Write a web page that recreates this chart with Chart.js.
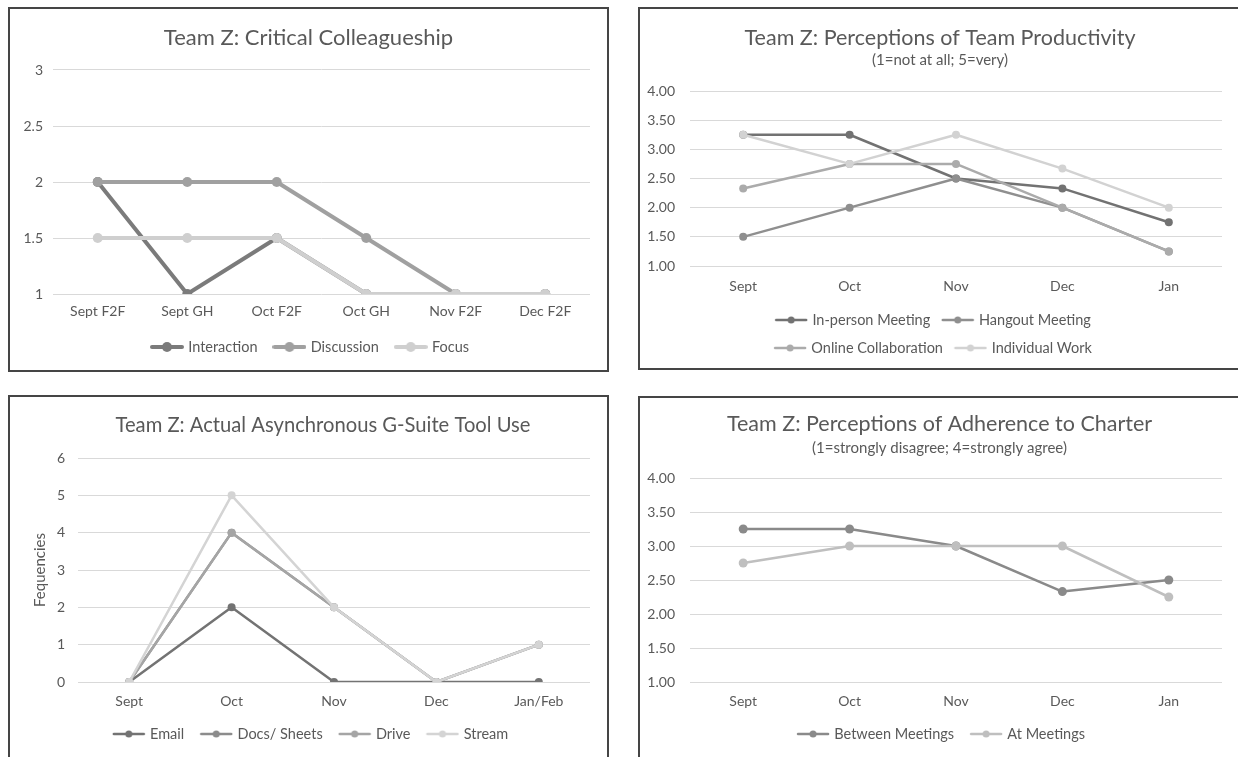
<!DOCTYPE html>
<html>
<head>
<meta charset="utf-8">
<script src="https://cdn.jsdelivr.net/npm/chart.js@4.4.1/dist/chart.umd.min.js"></script>
<style>
  html, body { margin: 0; padding: 0; background: #fff; overflow: hidden; width: 1238px; height: 757px; }
  canvas.panel { position: absolute; }
  .frame { position: absolute; border: 2px solid #454545; box-sizing: border-box; pointer-events: none; }
</style>
</head>
<body>
<canvas id="colleagueship" class="panel" width="599" height="363" style="left:9px;top:8px"></canvas>
<canvas id="productivity" class="panel" width="602" height="361" style="left:639px;top:8px"></canvas>
<canvas id="toolUse" class="panel" width="599" height="363" style="left:9px;top:396px"></canvas>
<canvas id="charter" class="panel" width="602" height="363" style="left:639px;top:397px"></canvas>
<div class="frame" style="left:8px;top:7px;width:601px;height:365px"></div>
<div class="frame" style="left:638px;top:7px;width:610px;height:363px"></div>
<div class="frame" style="left:8px;top:395px;width:601px;height:380px"></div>
<div class="frame" style="left:638px;top:396px;width:610px;height:380px"></div>
<script>
// ---- Critical Colleagueship ----
const ccCategories = ['Sept F2F', 'Sept GH', 'Oct F2F', 'Oct GH', 'Nov F2F', 'Dec F2F'];
const ccInteraction = [2, 1, 1.5, 1, 1, 1];
const ccDiscussion = [2, 2, 2, 1.5, 1, 1];
const ccFocus = [1.5, 1.5, 1.5, 1, 1, 1];

// ---- Perceptions of Team Productivity ----
const prodMonths = ['Sept', 'Oct', 'Nov', 'Dec', 'Jan'];
const prodInPerson = [3.25, 3.25, 2.5, 2.33, 1.75];
const prodHangout = [1.5, 2.0, 2.5, 2.0, 1.25];
const prodOnline = [2.33, 2.75, 2.75, 2.0, 1.25];
const prodIndividual = [3.25, 2.75, 3.25, 2.67, 2.0];

// ---- Actual Asynchronous G-Suite Tool Use ----
const toolMonths = ['Sept', 'Oct', 'Nov', 'Dec', 'Jan/Feb'];
const toolEmail = [0, 2, 0, 0, 0];
const toolDocs = [0, 4, 2, 0, 1];
const toolDrive = [0, 4, 2, 0, 1];
const toolStream = [0, 5, 2, 0, 1];

// ---- Perceptions of Adherence to Charter ----
const charterMonths = ['Sept', 'Oct', 'Nov', 'Dec', 'Jan'];
const charterBetween = [3.25, 3.25, 3.0, 2.33, 2.5];
const charterAt = [2.75, 3.0, 3.0, 3.0, 2.25];

const FONT = 'Lato, "Open Sans", sans-serif';
const TEXT = '#595959';
const GRID = '#d9d9d9';

// small line-with-marker picture used as the legend key
function legendSwatch(color, lineWidth, radius) {
  const c = document.createElement('canvas');
  c.width = 34; c.height = 14;
  const g = c.getContext('2d');
  g.strokeStyle = color; g.lineWidth = lineWidth; g.lineCap = 'round';
  g.beginPath(); g.moveTo(2, 7); g.lineTo(32, 7); g.stroke();
  g.fillStyle = color;
  g.beginPath(); g.arc(17, 7, radius, 0, Math.PI * 2); g.fill();
  return c;
}

function series(label, data, color, lw, r, order) {
  return {
    label, data, order,
    borderColor: color, backgroundColor: color,
    pointBackgroundColor: color, pointBorderColor: color,
    borderWidth: lw, pointRadius: r, pointHoverRadius: r, pointBorderWidth: 0,
    tension: 0, fill: false, borderJoinStyle: 'round', borderCapStyle: 'round'
  };
}

function buildChart(id, s, labels, datasets, range) {
  const canvas = document.getElementById(id);
  const W = canvas.width, H = canvas.height;
  const padR = W - s.plotR;
  const tLH = s.titleSize * 1.2;
  const titlePad = { top: s.titleY - tLH / 2, bottom: 0 };
  let subtitle = { display: false };
  if (s.sub) {
    const sLH = s.subSize * 1.2;
    const tBottom = s.titleY + tLH / 2;
    subtitle = {
      display: true, text: s.sub, color: TEXT,
      font: { family: FONT, size: s.subSize, weight: 'normal' },
      padding: { top: s.subY - sLH / 2 - tBottom, bottom: s.plotT - (s.subY + sLH / 2) }
    };
  } else {
    titlePad.bottom = s.plotT - (s.titleY + tLH / 2);
  }
  const tickLH = s.tickSize * 1.2;
  const legendTop = s.legendY - s.legendPad - s.legendSize / 2;
  const legendH = H - legendTop;
  const swatches = datasets.map(d => legendSwatch(d.borderColor, s.keyLine, s.keyRadius));

  // fixes the legend block height / row wrapping and centres the heading and legend
  const placeBlocks = {
    id: 'placeBlocks',
    beforeInit(chart) {
      const lg = chart.legend;
      const orig = lg.fit;
      lg.fit = function () {
        const full = this.maxWidth;
        this.maxWidth = s.wrapWidth || full;
        orig.call(this);
        this.maxWidth = full;
        this.width = full;
        this.height = legendH;
      };
    },
    afterLayout(chart) {
      const half = 290;
      chart.boxes.forEach(b => {
        if (b === chart.legend) {
          b.left = s.legendX - half; b.right = s.legendX + half;
        } else if (b.options && typeof b.options.text === 'string' && b.options.text) {
          b.left = s.titleX - half; b.right = s.titleX + half;
        }
      });
    }
  };

  const yOpts = {
    position: 'left',
    min: range.min, max: range.max,
    grid: { color: GRID, lineWidth: 1, drawTicks: false },
    border: { display: false },
    ticks: {
      color: TEXT, font: { family: FONT, size: s.tickSize },
      padding: s.plotL - s.yLabelRight,
      stepSize: range.step, callback: range.format
    },
    afterFit(scale) { scale.width = s.plotL; }
  };
  if (s.yTitle) {
    const aLH = s.yTitleSize * 1.2;
    yOpts.title = {
      display: true, text: s.yTitle, color: TEXT,
      font: { family: FONT, size: s.yTitleSize },
      padding: { top: s.yTitleX - aLH / 2, bottom: 0 }
    };
  }

  return new Chart(canvas, {
    type: 'line',
    data: { labels, datasets },
    plugins: [placeBlocks],
    options: {
      responsive: false,
      animation: false,
      events: [],
      layout: { padding: { left: 0, right: padR, top: 0, bottom: 0 } },
      scales: {
        x: {
          type: 'category',
          offset: true,
          grid: { display: false, drawTicks: false },
          border: { display: false },
          ticks: { color: TEXT, font: { family: FONT, size: s.tickSize }, padding: s.xLabelY - s.plotB - tickLH / 2, maxRotation: 0, autoSkip: false },
          afterFit(scale) { scale.height = legendTop - s.plotB; }
        },
        y: yOpts
      },
      plugins: {
        title: {
          display: true, text: s.title, color: TEXT,
          font: { family: FONT, size: s.titleSize, weight: 'normal' },
          padding: titlePad
        },
        subtitle,
        tooltip: { enabled: false },
        legend: {
          display: true, position: 'bottom',
          labels: {
            color: TEXT, font: { family: FONT, size: s.legendSize },
            usePointStyle: true, pointStyleWidth: 28, padding: s.legendPad,
            generateLabels(chart) {
              return chart.data.datasets.map((d, i) => ({
                text: d.label, datasetIndex: i, pointStyle: swatches[i],
                fillStyle: d.borderColor, strokeStyle: d.borderColor, lineWidth: 0,
                hidden: false, fontColor: TEXT
              }));
            }
          }
        }
      }
    }
  });
}

const plain = v => String(v);
const twoDec = v => v.toFixed(2);

buildChart('colleagueship', {
  title: 'Team Z: Critical Colleagueship', titleSize: 22, titleX: 299.5, titleY: 30,
  plotL: 44, plotR: 581, plotT: 62, plotB: 286,
  tickSize: 14, xLabelY: 303, yLabelRight: 34,
  legendX: 302, legendY: 339, legendSize: 14.5, legendPad: 18, keyLine: 4, keyRadius: 5
}, ccCategories, [
  series('Interaction', ccInteraction, '#7b7b7b', 4, 5, 3),
  series('Discussion', ccDiscussion, '#a0a0a0', 4, 5, 2),
  series('Focus', ccFocus, '#cfcfcf', 4, 5, 1)
], { min: 1, max: 3, step: 0.5, format: plain });

buildChart('productivity', {
  title: 'Team Z: Perceptions of Team Productivity', titleSize: 21.5, titleX: 301, titleY: 30,
  sub: '(1=not at all; 5=very)', subSize: 15, subY: 52,
  plotL: 51, plotR: 583, plotT: 83, plotB: 258,
  tickSize: 14, xLabelY: 278, yLabelRight: 36,
  legendX: 295, legendY: 312, legendSize: 14.5, legendPad: 13.5, wrapWidth: 420, keyLine: 2.5, keyRadius: 3.5
}, prodMonths, [
  series('In-person Meeting', prodInPerson, '#727272', 2.5, 4, 4),
  series('Hangout Meeting', prodHangout, '#8f8f8f', 2.5, 4, 3),
  series('Online Collaboration', prodOnline, '#ababab', 2.5, 4, 2),
  series('Individual Work', prodIndividual, '#d2d2d2', 2.5, 4, 1)
], { min: 1, max: 4, step: 0.5, format: twoDec });

buildChart('toolUse', {
  title: 'Team Z: Actual Asynchronous G-Suite Tool Use', titleSize: 20.2, titleX: 314, titleY: 29,
  plotL: 69, plotR: 581, plotT: 62, plotB: 286,
  tickSize: 14, xLabelY: 305, yLabelRight: 56,
  yTitle: 'Fequencies', yTitleSize: 15, yTitleX: 31,
  legendX: 302.5, legendY: 338, legendSize: 14.5, legendPad: 18, keyLine: 2.5, keyRadius: 3.5
}, toolMonths, [
  series('Email', toolEmail, '#737373', 2.5, 4, 4),
  series('Docs/ Sheets', toolDocs, '#8c8c8c', 2.5, 4, 3),
  series('Drive', toolDrive, '#a5a5a5', 2.5, 4, 2),
  series('Stream', toolStream, '#d4d4d4', 2.5, 4, 1)
], { min: 0, max: 6, step: 1, format: plain });

buildChart('charter', {
  title: 'Team Z: Perceptions of Adherence to Charter', titleSize: 21.5, titleX: 300.5, titleY: 27,
  sub: '(1=strongly disagree; 4=strongly agree)', subSize: 15, subY: 51,
  plotL: 51, plotR: 583, plotT: 81, plotB: 285,
  tickSize: 14, xLabelY: 304, yLabelRight: 36,
  legendX: 303, legendY: 337, legendSize: 14.5, legendPad: 18, keyLine: 2.5, keyRadius: 3.5
}, charterMonths, [
  series('Between Meetings', charterBetween, '#8a8a8a', 2.5, 4.5, 2),
  series('At Meetings', charterAt, '#bfbfbf', 2.5, 4.5, 1)
], { min: 1, max: 4, step: 0.5, format: twoDec });
</script>
</body>
</html>
